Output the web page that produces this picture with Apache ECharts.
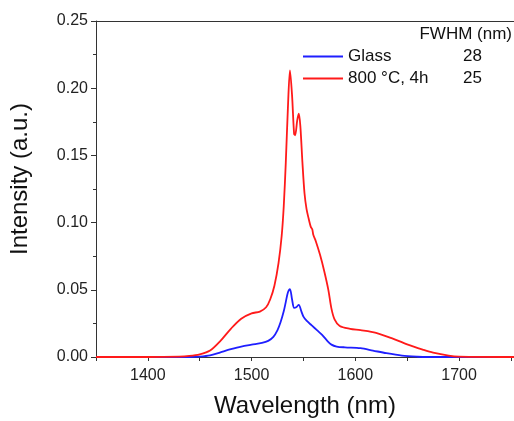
<!DOCTYPE html>
<html><head><meta charset="utf-8">
<script src="https://cdn.jsdelivr.net/npm/echarts@6/dist/echarts.min.js"></script>
<style>html,body{margin:0;padding:0;background:#fff;overflow:hidden}#c{width:514px;height:421px}</style>
</head><body><div id="c"></div>
<script>
const seriesNames = ['Glass', '800 °C, 4h'];
const fwhmValues = ['28', '25'];
const seriesColors = ['#1f1fff', '#ff1a1a'];
const glassData = [
 [1350,0],[1440,0],[1450,0.0003],[1460,0.0012],[1470,0.0035],[1480,0.0058],[1490,0.0078],[1500,0.0092],
 [1510,0.0105],[1516,0.012],[1521,0.015],[1525,0.02],[1528,0.026],[1531,0.034],[1533,0.041],[1535,0.048],
 [1537,0.0505],[1539,0.043],[1541,0.0365],[1543,0.037],[1545.5,0.0388],[1548,0.034],[1550,0.030],[1553,0.027],
 [1558,0.0235],[1563,0.020],[1568,0.0165],[1573,0.012],[1577,0.0092],[1582,0.0078],[1590,0.0072],[1605,0.0066],
 [1617,0.0048],[1630,0.0028],[1645,0.001],[1660,0.0002],[1670,0],[1753,0]
];
const annealedData = [
 [1350,0],[1400,0],[1430,0.0003],[1440,0.0008],[1450,0.002],[1460,0.0048],[1470,0.012],[1480,0.021],
 [1490,0.0285],[1500,0.0325],[1508,0.0338],[1514,0.037],[1518,0.043],[1522,0.053],[1526,0.07],[1529,0.09],
 [1531,0.112],[1533,0.145],[1535,0.185],[1537,0.2133],[1539,0.195],[1541,0.166],[1542,0.165],[1544,0.176],
 [1545.5,0.181],[1547,0.172],[1549,0.145],[1551,0.122],[1553,0.11],[1555,0.103],[1557,0.097],[1558.5,0.095],
 [1559.5,0.091],[1562,0.086],[1566,0.076],[1570,0.064],[1574,0.05],[1577,0.036],[1580,0.028],[1585,0.023],
 [1595,0.021],[1605,0.020],[1620,0.018],[1635,0.014],[1650,0.0094],[1665,0.0055],[1675,0.0032],[1690,0.001],
 [1700,0.0003],[1753,0]
];
const xTickLabels = [1400, 1500, 1600, 1700];
const font = 'Liberation Sans';
const chart = echarts.init(document.getElementById('c'), null, {renderer:'canvas'});
const axisColor = '#333';
chart.setOption({
  animation:false,
  grid:{left:96, top:21, right:0, bottom:64, outerBoundsMode:'none', containLabel:false},
  graphic:[{type:'text', right:2, top:26, style:{text:'FWHM (nm)', font:'17px '+font, fill:'#111'}}],
  legend:{
    orient:'vertical', left:298, top:43, itemWidth:40, itemHeight:14, itemGap:5,
    icon:'path://M0,6 L40,6 L40,8 L0,8 Z',
    data:seriesNames,
    formatter: n => `{n|${n}}{v|${fwhmValues[seriesNames.indexOf(n)]}}`,
    textStyle:{fontFamily:font, fontSize:17, color:'#111',
      rich:{n:{width:115, fontFamily:font, fontSize:17, color:'#111'}, v:{fontFamily:font, fontSize:17, color:'#111'}}}
  },
  xAxis:[{
    type:'value', min:1350, max:1753, interval:50,
    name:'Wavelength (nm)', nameLocation:'middle', nameGap:37,
    nameTextStyle:{fontFamily:font, fontSize:24, color:'#111'},
    axisLine:{lineStyle:{color:axisColor, width:1}},
    axisTick:{length:4, lineStyle:{color:axisColor}},
    axisLabel:{fontFamily:font, fontSize:16, color:'#222', margin:11, showMaxLabel:false,
      formatter: v => xTickLabels.includes(v) ? String(v) : ''},
    splitLine:{show:false}
  },{
    type:'value', position:'top', min:1350, max:1753,
    axisLine:{show:true, lineStyle:{color:axisColor, width:1}},
    axisTick:{show:false}, axisLabel:{show:false}, splitLine:{show:false}
  }],
  yAxis:{
    type:'value', min:0, max:0.25, interval:0.05,
    name:'Intensity (a.u.)', nameLocation:'middle', nameGap:64,
    nameTextStyle:{fontFamily:font, fontSize:24, color:'#111', padding:[0,0,0,20]},
    axisLine:{show:true, lineStyle:{color:axisColor, width:1}},
    axisTick:{length:5, lineStyle:{color:axisColor}},
    minorTick:{show:true, splitNumber:2, length:3, lineStyle:{color:axisColor}},
    axisLabel:{fontFamily:font, fontSize:16, color:'#222', margin:8, formatter: v => v.toFixed(2)},
    splitLine:{show:false}
  },
  series:[
    {name:seriesNames[0], type:'line', data:glassData, showSymbol:false, smooth:0.3,
     lineStyle:{color:seriesColors[0], width:1.8}, itemStyle:{color:seriesColors[0]}},
    {name:seriesNames[1], type:'line', data:annealedData, showSymbol:false, smooth:0.3,
     lineStyle:{color:seriesColors[1], width:1.8}, itemStyle:{color:seriesColors[1]}}
  ]
});
</script></body></html>
